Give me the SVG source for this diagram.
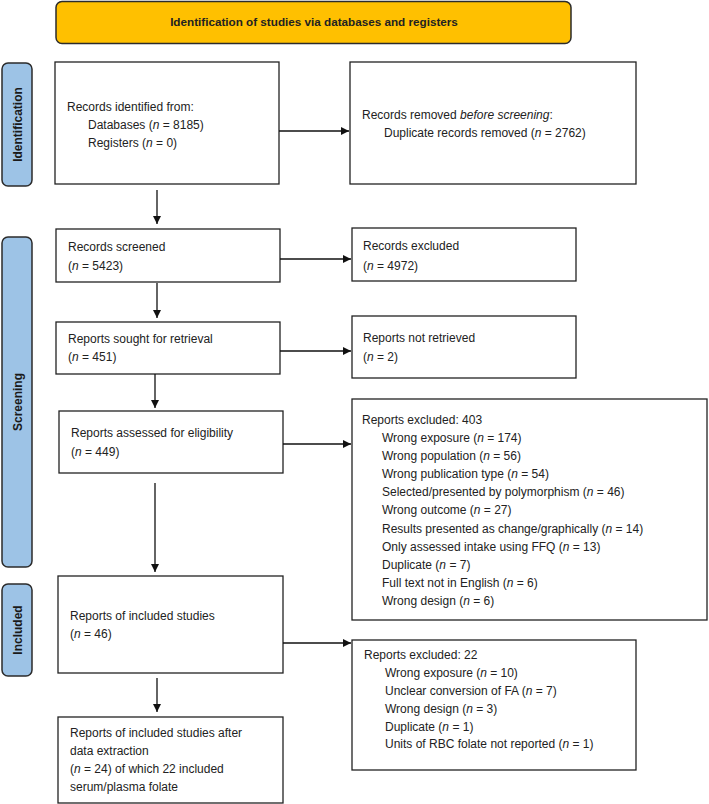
<svg xmlns="http://www.w3.org/2000/svg" width="709" height="804" viewBox="0 0 709 804">
<style>
.box{fill:#fff;stroke:#222;stroke-width:1.3}
.side{fill:#9DC3E6;stroke:#2b2b2b;stroke-width:1.5}
.t{font-family:"Liberation Sans",Arial,sans-serif;font-size:12px;fill:#222}
.sl{font-family:"Liberation Sans",Arial,sans-serif;font-size:12px;font-weight:bold;fill:#1a1a1a}
.c{stroke:#111;stroke-width:1.3;fill:none}
.i{font-style:italic}
</style>
<defs>
<marker id="ah" viewBox="0 0 10 10" refX="10" refY="5" markerWidth="8" markerHeight="8" markerUnits="userSpaceOnUse" orient="auto">
<path d="M0,0 L10,5 L0,10 z" fill="#111"/>
</marker>
</defs>
<g id="banner">
<rect x="56" y="1.5" width="515" height="42" rx="6" fill="#FFC000" stroke="#2b2b2b" stroke-width="1.5"/>
<text x="314" y="26" text-anchor="middle" class="t" style="font-weight:bold;font-size:11.7px">Identification of studies via databases and registers</text>
</g>
<g id="label-identification">
<rect class="side" x="2" y="63" width="30" height="123" rx="6"/>
<text class="sl" transform="translate(21.5,124.5) rotate(-90)" text-anchor="middle">Identification</text>
</g>
<g id="label-screening">
<rect class="side" x="2" y="237" width="30" height="330" rx="6"/>
<text class="sl" transform="translate(21.5,402) rotate(-90)" text-anchor="middle">Screening</text>
</g>
<g id="label-included">
<rect class="side" x="2" y="584" width="30" height="92" rx="6"/>
<text class="sl" transform="translate(21.5,630) rotate(-90)" text-anchor="middle">Included</text>
</g>
<g id="records-identified">
<rect class="box" x="55" y="62" width="224" height="122"/>
<text class="t" x="67" y="111">Records identified from:</text>
<text class="t" x="88" y="129">Databases (<tspan class="i">n</tspan> = 8185)</text>
<text class="t" x="88" y="147">Registers (<tspan class="i">n</tspan> = 0)</text>
</g>
<g id="records-removed">
<rect class="box" x="350" y="62" width="286" height="122"/>
<text class="t" x="362" y="119">Records removed <tspan class="i">before screening</tspan>:</text>
<text class="t" x="384" y="137">Duplicate records removed (<tspan class="i">n</tspan> = 2762)</text>
</g>
<g id="records-screened">
<rect class="box" x="56" y="229" width="224" height="53"/>
<text class="t" x="68" y="251">Records screened</text>
<text class="t" x="68" y="270">(<tspan class="i">n</tspan> = 5423)</text>
</g>
<g id="records-excluded">
<rect class="box" x="352" y="228" width="224" height="53"/>
<text class="t" x="363" y="250">Records excluded</text>
<text class="t" x="363" y="270">(<tspan class="i">n</tspan> = 4972)</text>
</g>
<g id="reports-sought">
<rect class="box" x="56" y="322" width="224" height="52"/>
<text class="t" x="68" y="343">Reports sought for retrieval</text>
<text class="t" x="68" y="361">(<tspan class="i">n</tspan> = 451)</text>
</g>
<g id="reports-not-retrieved">
<rect class="box" x="352" y="316" width="224" height="62"/>
<text class="t" x="363" y="342">Reports not retrieved</text>
<text class="t" x="363" y="361">(<tspan class="i">n</tspan> = 2)</text>
</g>
<g id="reports-assessed">
<rect class="box" x="59" y="411" width="224" height="62"/>
<text class="t" x="71" y="437">Reports assessed for eligibility</text>
<text class="t" x="71" y="456">(<tspan class="i">n</tspan> = 449)</text>
</g>
<g id="reports-excluded-403">
<rect class="box" x="352" y="399" width="355" height="221"/>
<text class="t" x="362" y="424">Reports excluded: 403</text>
<text class="t" x="382" y="442">Wrong exposure (<tspan class="i">n</tspan> = 174)</text>
<text class="t" x="382" y="460">Wrong population (<tspan class="i">n</tspan> = 56)</text>
<text class="t" x="382" y="478">Wrong publication type (<tspan class="i">n</tspan> = 54)</text>
<text class="t" x="382" y="496">Selected/presented by polymorphism (<tspan class="i">n</tspan> = 46)</text>
<text class="t" x="382" y="514">Wrong outcome (<tspan class="i">n</tspan> = 27)</text>
<text class="t" x="382" y="533">Results presented as change/graphically (<tspan class="i">n</tspan> = 14)</text>
<text class="t" x="382" y="551">Only assessed intake using FFQ (<tspan class="i">n</tspan> = 13)</text>
<text class="t" x="382" y="569">Duplicate (<tspan class="i">n</tspan> = 7)</text>
<text class="t" x="382" y="587">Full text not in English (<tspan class="i">n</tspan> = 6)</text>
<text class="t" x="382" y="605">Wrong design (<tspan class="i">n</tspan> = 6)</text>
</g>
<g id="reports-included">
<rect class="box" x="58" y="576" width="225" height="97"/>
<text class="t" x="70" y="620">Reports of included studies</text>
<text class="t" x="70" y="638">(<tspan class="i">n</tspan> = 46)</text>
</g>
<g id="reports-excluded-22">
<rect class="box" x="352" y="640" width="284" height="130"/>
<text class="t" x="364" y="659">Reports excluded: 22</text>
<text class="t" x="385" y="677">Wrong exposure (<tspan class="i">n</tspan> = 10)</text>
<text class="t" x="385" y="695">Unclear conversion of FA (<tspan class="i">n</tspan> = 7)</text>
<text class="t" x="385" y="713">Wrong design (<tspan class="i">n</tspan> = 3)</text>
<text class="t" x="385" y="731">Duplicate (<tspan class="i">n</tspan> = 1)</text>
<text class="t" x="385" y="748">Units of RBC folate not reported (<tspan class="i">n</tspan> = 1)</text>
</g>
<g id="reports-final">
<rect class="box" x="58" y="717" width="225" height="86"/>
<text class="t" x="70" y="737">Reports of included studies after</text>
<text class="t" x="70" y="755">data extraction</text>
<text class="t" x="70" y="773">(<tspan class="i">n</tspan> = 24) of which 22 included</text>
<text class="t" x="70" y="791">serum/plasma folate</text>
</g>
<g id="connectors">
<line class="c" x1="279" y1="131" x2="349" y2="131" marker-end="url(#ah)"/>
<line class="c" x1="157" y1="190" x2="157" y2="224" marker-end="url(#ah)"/>
<line class="c" x1="280" y1="259" x2="351" y2="259" marker-end="url(#ah)"/>
<line class="c" x1="157" y1="283" x2="157" y2="318" marker-end="url(#ah)"/>
<line class="c" x1="280" y1="351" x2="351" y2="351" marker-end="url(#ah)"/>
<line class="c" x1="155" y1="374" x2="155" y2="408" marker-end="url(#ah)"/>
<line class="c" x1="283" y1="444" x2="351" y2="444" marker-end="url(#ah)"/>
<line class="c" x1="155" y1="483" x2="155" y2="572" marker-end="url(#ah)"/>
<line class="c" x1="283" y1="643" x2="351" y2="643" marker-end="url(#ah)"/>
<line class="c" x1="157" y1="678" x2="157" y2="712" marker-end="url(#ah)"/>
</g>
</svg>
